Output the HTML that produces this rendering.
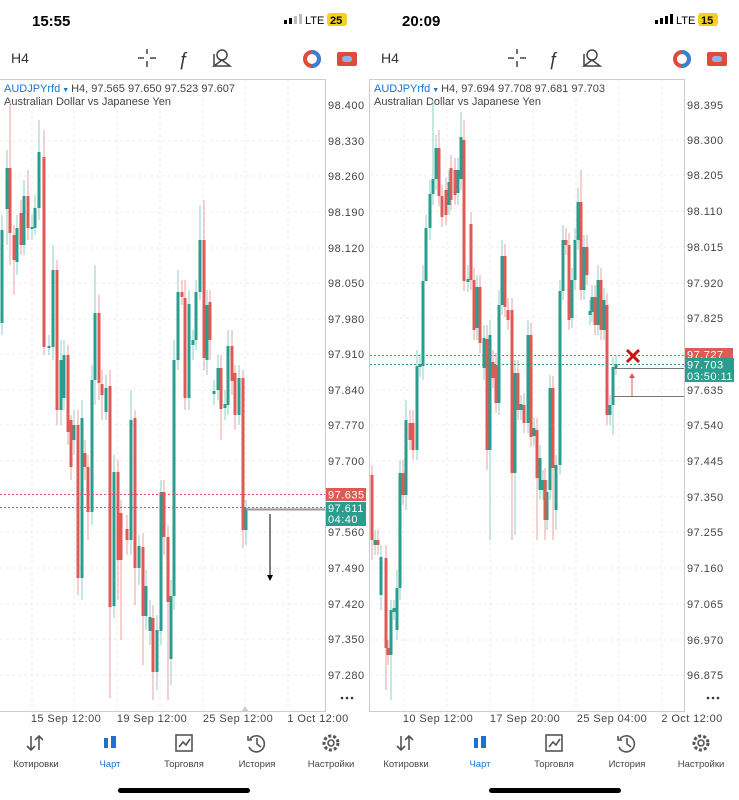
<!DOCTYPE html>
<html><head><meta charset="utf-8"><style>
body{margin:0;width:739px;height:800px;background:#fff;overflow:hidden;font-family:"Liberation Sans",sans-serif;}
svg{position:absolute;left:0;top:0}
</style></head><body>
<svg width="739" height="800" viewBox="0 0 739 800" font-family="Liberation Sans, DejaVu Sans, sans-serif">
<!-- status bars -->
<text x="32" y="26" font-size="15" font-weight="bold" fill="#000">15:55</text>
<text x="402" y="26" font-size="15" font-weight="bold" fill="#000">20:09</text>
<g fill="#000"><rect x="284" y="20" width="3" height="4"/><rect x="289" y="18" width="3" height="6"/><rect x="294" y="16" width="3" height="8" fill="#bbb"/><rect x="299" y="14" width="3" height="10" fill="#bbb"/>
<rect x="655" y="20" width="3" height="4"/><rect x="660" y="18" width="3" height="6"/><rect x="665" y="16" width="3" height="8"/><rect x="670" y="14" width="3" height="10"/></g>
<text x="305" y="24" font-size="11" fill="#000">LTE</text><rect x="327" y="13" width="20" height="13" rx="3" fill="#f5d020"/><text x="330" y="24" font-size="11" font-weight="bold">25</text>
<text x="676" y="24" font-size="11" fill="#000">LTE</text><rect x="698" y="13" width="20" height="13" rx="3" fill="#f5d020"/><text x="701" y="24" font-size="11" font-weight="bold">15</text>
<!-- toolbars -->
<g font-size="14" fill="#333"><text x="11" y="63">H4</text><text x="381" y="63">H4</text></g>
<g stroke="#444" stroke-width="1.5" fill="none">
<path d="M138 58h6M150 58h6M147 49v5M147 61v6M508 58h6M520 58h6M517 49v5M517 61v6"/>
<circle cx="222" cy="55" r="5"/><path d="M214 66l8-6 8 6zM214 54v12"/><circle cx="592" cy="55" r="5"/><path d="M584 66l8-6 8 6zM584 54v12"/>
</g>
<g font-size="18" font-style="italic" fill="#333"><text x="178" y="65">ƒ</text><text x="548" y="65">ƒ</text></g>
<g><circle cx="312" cy="59" r="7" fill="none" stroke="#e04a3a" stroke-width="4"/><path d="M312 52a7 7 0 0 1 0 14" stroke="#3a7fd5" stroke-width="4" fill="none"/>
<circle cx="682" cy="59" r="7" fill="none" stroke="#e04a3a" stroke-width="4"/><path d="M682 52a7 7 0 0 1 0 14" stroke="#3a7fd5" stroke-width="4" fill="none"/>
<rect x="337" y="52" width="20" height="14" rx="2" fill="#e04a3a"/><rect x="342" y="56" width="10" height="6" rx="3" fill="#8ab4f0"/>
<rect x="707" y="52" width="20" height="14" rx="2" fill="#e04a3a"/><rect x="712" y="56" width="10" height="6" rx="3" fill="#8ab4f0"/></g>
<!-- chart frames -->
<g stroke="#ccc" fill="none"><path d="M0 79.5H325.5V711.5H0"/><path d="M369.5 79.5H684.5V711.5H369.5V79.5"/></g>
<!-- grids -->
<g stroke="#eee" stroke-dasharray="3,3">
<path d="M0 141H325M0 176H325M0 212H325M0 248H325M0 283H325M0 319H325M0 354H325M0 390H325M0 425H325M0 461H325M0 532H325M0 568H325M0 604H325M0 639H325M0 675H325"/>
<path d="M32 80V711M74 80V711M117 80V711M160 80V711M203 80V711M245 80V711M288 80V711"/>
<path d="M370 140H684M370 175H684M370 211H684M370 247H684M370 283H684M370 318H684M370 390H684M370 425H684M370 461H684M370 497H684M370 532H684M370 568H684M370 604H684M370 640H684M370 675H684"/>
<path d="M404 80V711M447 80V711M490 80V711M533 80V711M576 80V711M619 80V711M662 80V711"/>
</g>
<!-- headers -->
<text x="4" y="92" font-size="11"><tspan fill="#1a73d0">AUDJPYrfd</tspan><tspan fill="#1a73d0" font-size="7"> ▼ </tspan><tspan fill="#444">H4, 97.565 97.650 97.523 97.607</tspan></text>
<text x="4" y="105" font-size="11" fill="#444">Australian Dollar vs Japanese Yen</text>
<text x="374" y="92" font-size="11"><tspan fill="#1a73d0">AUDJPYrfd</tspan><tspan fill="#1a73d0" font-size="7"> ▼ </tspan><tspan fill="#444">H4, 97.694 97.708 97.681 97.703</tspan></text>
<text x="374" y="105" font-size="11" fill="#444">Australian Dollar vs Japanese Yen</text>
<!-- left wicks -->
<path fill="none" stroke="#8fd0c6" d="M2 215V335M7 150V245M17 215V275M24 180V255M32 215V240M35 195V235M39 120V220M49 335V355M53 245V360M61 340V425M64 340V410M74 410V455M82 400V600M92 365V525M95 265V405M106 375V420M114 455V618M131 390V555M139 535V585M146 570V630M150 600V645M157 615V690M161 480V645M171 580V685M174 340V610M178 270V370M189 290V410M193 330V360M196 280V350M200 205V300M207 290V375M214 380V405M218 355V400M225 390V420M228 330V415M239 365V425M246 500V545"/>
<path fill="none" stroke="#eaa3a0" d="M10 100V265M14 225V295M21 200V255M28 170V240M44 130V355M57 260V425M68 345V445M71 415V480M78 410V595M85 440V480M88 455V540M99 295V400M102 370V420M110 370V698M118 460V600M121 500V640M127 515V555M135 410V605M143 533V665M153 605V700M164 480V555M168 525V700M182 280V305M185 280V410M204 200V370M210 290V360M221 355V440M232 330V395M235 365V430M243 370V548"/>
<!-- left bodies green -->
<g fill="#2a9d8f">
<rect x="0.5" y="230" width="3" height="93"/><rect x="5.5" y="168" width="3" height="41"/><rect x="15.5" y="228" width="3" height="34"/><rect x="22.5" y="196" width="3" height="49"/><rect x="30.5" y="227" width="3" height="2"/><rect x="33.5" y="208" width="3" height="20"/><rect x="37.5" y="152" width="3" height="56"/><rect x="47.5" y="346" width="3" height="2"/><rect x="51.5" y="270" width="3" height="77"/><rect x="59.5" y="360" width="3" height="50"/><rect x="62.5" y="355" width="3" height="43"/><rect x="72.5" y="425" width="3" height="15"/><rect x="80.5" y="418" width="3" height="160"/><rect x="90.5" y="380" width="3" height="132"/><rect x="93.5" y="313" width="3" height="67"/><rect x="104.5" y="388" width="3" height="24"/><rect x="112.5" y="472" width="3" height="134"/><rect x="129.5" y="420" width="3" height="120"/><rect x="137.5" y="546" width="3" height="22"/><rect x="144.5" y="586" width="3" height="30"/><rect x="148.5" y="617" width="3" height="14"/><rect x="155.5" y="630" width="3" height="42"/><rect x="159.5" y="492" width="3" height="139"/><rect x="169.5" y="596" width="3" height="63"/><rect x="172.5" y="360" width="3" height="236"/><rect x="176.5" y="292" width="3" height="68"/><rect x="187.5" y="304" width="3" height="94"/><rect x="191.5" y="340" width="3" height="5"/><rect x="194.5" y="292" width="3" height="48"/><rect x="198.5" y="240" width="3" height="52"/><rect x="205.5" y="305" width="3" height="55"/><rect x="212.5" y="391" width="3" height="3"/><rect x="216.5" y="368" width="3" height="22"/><rect x="223.5" y="404" width="3" height="4"/><rect x="226.5" y="346" width="3" height="59"/><rect x="237.5" y="378" width="3" height="37"/><rect x="244.5" y="508" width="3" height="22"/>
</g>
<g fill="#e05a55">
<rect x="8.5" y="168" width="3" height="65"/><rect x="12.5" y="235" width="3" height="25"/><rect x="19.5" y="213" width="3" height="32"/><rect x="26.5" y="196" width="3" height="32"/><rect x="42.5" y="157" width="3" height="190"/><rect x="55.5" y="270" width="3" height="140"/><rect x="66.5" y="355" width="3" height="77"/><rect x="69.5" y="420" width="3" height="47"/><rect x="76.5" y="425" width="3" height="153"/><rect x="83.5" y="453" width="3" height="14"/><rect x="86.5" y="467" width="3" height="45"/><rect x="97.5" y="313" width="3" height="70"/><rect x="100.5" y="384" width="3" height="11"/><rect x="108.5" y="386" width="3" height="221"/><rect x="116.5" y="472" width="3" height="88"/><rect x="119.5" y="513" width="3" height="47"/><rect x="125.5" y="529" width="3" height="11"/><rect x="133.5" y="418" width="3" height="150"/><rect x="141.5" y="547" width="3" height="69"/><rect x="151.5" y="618" width="3" height="54"/><rect x="162.5" y="492" width="3" height="45"/><rect x="166.5" y="537" width="3" height="65"/><rect x="180.5" y="292" width="3" height="5"/><rect x="183.5" y="298" width="3" height="100"/><rect x="202.5" y="240" width="3" height="118"/><rect x="208.5" y="302" width="3" height="38"/><rect x="219.5" y="368" width="3" height="41"/><rect x="230.5" y="346" width="3" height="35"/><rect x="233.5" y="373" width="3" height="42"/><rect x="241.5" y="378" width="3" height="152"/>
</g>
<!-- left price lines -->
<path d="M0 494.5H325" stroke="#e05a55" stroke-dasharray="2,2"/>
<path d="M0 507.5H325" stroke="#2a9d8f" stroke-dasharray="2,2"/>
<path d="M246 509.5H325" stroke="#999" stroke-width="2"/>
<path d="M270 514V576" stroke="#000"/><path d="M267 575l3 6 3-6z" fill="#000"/>
<path d="M241 712l4-6 4 6z" fill="#ccc"/>
<!-- right wicks -->
<path fill="none" stroke="#8fd0c6" d="M375 530V555M381 545V610M391 600V700M394 600V620M397 570V640M400 460V600M406 400V510M417 350V460M420 354V377M423 265V380M426 215V275M430 180V240M433 100V205M436 135V190M449 170V215M458 158V205M461 112V190M468 265V292M477 275V340M484 325V380M490 320V540M499 290V415M502 240V315M515 360V535M521 395V420M528 320V433M534 418V446M540 445V500M543 470V500M547 480V530M550 375V500M556 455V530M560 280V475M563 225V300M572 268V328M575 228V290M578 188V250M584 235V300M590 300V325M592 285V322M598 265V335M604 288V340M610 395V425M613 357V435M616 355V375"/>
<path fill="none" stroke="#eaa3a0" d="M372 465V560M378 530V555M386 545V690M388 640V665M403 460V505M410 410V450M413 410V460M439 130V206M442 185V227M446 178V225M451 155V210M455 158V205M464 120V291M471 212V290M474 268V340M480 275V353M487 325V470M493 350V388M496 353V413M505 244V317M508 298V330M512 298V540M518 360V420M524 393V433M531 323V447M537 418V540M545 468V540M553 376V540M566 228V255M569 233V330M581 170V300M587 235V285M595 285V335M601 268V340M607 293V425"/>
<g fill="#2a9d8f">
<rect x="373.5" y="540" width="3" height="5"/><rect x="379.5" y="557" width="3" height="38"/><rect x="389.5" y="610" width="3" height="45"/><rect x="392.5" y="608" width="3" height="4"/><rect x="395.5" y="588" width="3" height="42"/><rect x="398.5" y="473" width="3" height="115"/><rect x="404.5" y="420" width="3" height="75"/><rect x="415.5" y="366" width="3" height="84"/><rect x="418.5" y="364" width="3" height="3"/><rect x="421.5" y="281" width="3" height="85"/><rect x="424.5" y="228" width="3" height="53"/><rect x="428.5" y="194" width="3" height="34"/><rect x="431.5" y="179" width="3" height="15"/><rect x="434.5" y="148" width="3" height="31"/><rect x="447.5" y="182" width="3" height="23"/><rect x="456.5" y="170" width="3" height="23"/><rect x="459.5" y="137" width="3" height="42"/><rect x="466.5" y="279" width="3" height="3"/><rect x="475.5" y="287" width="3" height="41"/><rect x="482.5" y="338" width="3" height="30"/><rect x="488.5" y="335" width="3" height="115"/><rect x="497.5" y="305" width="3" height="98"/><rect x="500.5" y="256" width="3" height="49"/><rect x="513.5" y="373" width="3" height="100"/><rect x="519.5" y="404" width="3" height="6"/><rect x="526.5" y="335" width="3" height="88"/><rect x="532.5" y="428" width="3" height="8"/><rect x="538.5" y="458" width="3" height="32"/><rect x="541.5" y="480" width="3" height="10"/><rect x="545.5" y="492" width="3" height="28"/><rect x="548.5" y="388" width="3" height="102"/><rect x="554.5" y="465" width="3" height="45"/><rect x="558.5" y="291" width="3" height="174"/><rect x="561.5" y="240" width="3" height="51"/><rect x="570.5" y="280" width="3" height="38"/><rect x="573.5" y="240" width="3" height="40"/><rect x="576.5" y="202" width="3" height="38"/><rect x="582.5" y="247" width="3" height="43"/><rect x="588.5" y="311" width="3" height="4"/><rect x="590.5" y="297" width="3" height="15"/><rect x="596.5" y="280" width="3" height="45"/><rect x="602.5" y="300" width="3" height="30"/><rect x="608.5" y="405" width="3" height="10"/><rect x="611.5" y="367" width="3" height="38"/><rect x="614.5" y="364" width="3" height="4"/>
</g>
<g fill="#e05a55">
<rect x="370.5" y="475" width="3" height="65"/><rect x="376.5" y="540" width="3" height="5"/><rect x="384.5" y="558" width="3" height="90"/><rect x="386.5" y="648" width="3" height="7"/><rect x="401.5" y="473" width="3" height="22"/><rect x="408.5" y="423" width="3" height="17"/><rect x="411.5" y="423" width="3" height="27"/><rect x="437.5" y="148" width="3" height="48"/><rect x="440.5" y="196" width="3" height="21"/><rect x="444.5" y="190" width="3" height="25"/><rect x="449.5" y="168" width="3" height="32"/><rect x="453.5" y="170" width="3" height="25"/><rect x="462.5" y="140" width="3" height="141"/><rect x="469.5" y="224" width="3" height="56"/><rect x="472.5" y="280" width="3" height="50"/><rect x="478.5" y="287" width="3" height="56"/><rect x="485.5" y="339" width="3" height="111"/><rect x="491.5" y="362" width="3" height="16"/><rect x="494.5" y="365" width="3" height="38"/><rect x="503.5" y="256" width="3" height="51"/><rect x="506.5" y="310" width="3" height="10"/><rect x="510.5" y="310" width="3" height="163"/><rect x="516.5" y="373" width="3" height="37"/><rect x="522.5" y="405" width="3" height="18"/><rect x="529.5" y="335" width="3" height="102"/><rect x="535.5" y="430" width="3" height="48"/><rect x="543.5" y="480" width="3" height="40"/><rect x="551.5" y="388" width="3" height="80"/><rect x="564.5" y="240" width="3" height="5"/><rect x="567.5" y="245" width="3" height="75"/><rect x="579.5" y="202" width="3" height="88"/><rect x="585.5" y="247" width="3" height="28"/><rect x="593.5" y="297" width="3" height="28"/><rect x="599.5" y="280" width="3" height="50"/><rect x="605.5" y="305" width="3" height="110"/>
</g>
<!-- right price lines -->
<path d="M370 355.5H684" stroke="#e05a55" stroke-dasharray="2,2"/>
<path d="M370 364.5H684" stroke="#2a9d8f" stroke-dasharray="2,2"/>
<path d="M614 368.5H684M612 396.5H684" stroke="#777"/>
<path d="M632 396V377" stroke="#e05a55"/><path d="M629 378l3-5 3 5z" fill="#e05a55"/>
<path d="M627 350l12 12M639 350l-12 12" stroke="#d01010" stroke-width="3"/>
<!-- axis labels -->
<g font-size="11" fill="#444" letter-spacing="0.5">
<text x="328" y="109">98.400</text><text x="328" y="145">98.330</text><text x="328" y="180">98.260</text><text x="328" y="216">98.190</text><text x="328" y="252">98.120</text><text x="328" y="287">98.050</text><text x="328" y="323">97.980</text><text x="328" y="358">97.910</text><text x="328" y="394">97.840</text><text x="328" y="429">97.770</text><text x="328" y="465">97.700</text><text x="328" y="536">97.560</text><text x="328" y="572">97.490</text><text x="328" y="608">97.420</text><text x="328" y="643">97.350</text><text x="328" y="679">97.280</text>
<text x="687" y="109">98.395</text><text x="687" y="144">98.300</text><text x="687" y="179">98.205</text><text x="687" y="215">98.110</text><text x="687" y="251">98.015</text><text x="687" y="287">97.920</text><text x="687" y="322">97.825</text><text x="687" y="394">97.635</text><text x="687" y="429">97.540</text><text x="687" y="465">97.445</text><text x="687" y="501">97.350</text><text x="687" y="536">97.255</text><text x="687" y="572">97.160</text><text x="687" y="608">97.065</text><text x="687" y="644">96.970</text><text x="687" y="679">96.875</text>
</g>
<rect x="326" y="488" width="40" height="13" fill="#e05a55"/><text x="328" y="498.5" font-size="11" fill="#fff" letter-spacing="0.5">97.635</text>
<rect x="326" y="502" width="40" height="24" fill="#2a9d8f"/><text x="328" y="512" font-size="11" fill="#fff" letter-spacing="0.5">97.611</text><text x="328" y="523" font-size="11" fill="#fff" letter-spacing="0.5">04:40</text>
<rect x="685" y="348" width="48" height="13" fill="#e05a55"/><text x="687" y="358.5" font-size="11" fill="#fff" letter-spacing="0.5">97.727</text>
<rect x="685" y="358" width="49" height="24" fill="#2a9d8f"/><text x="687" y="368.5" font-size="11" fill="#fff" letter-spacing="0.5">97.703</text><text x="687" y="380" font-size="11" fill="#fff" letter-spacing="0.5">03:50:11</text>
<g fill="#333"><circle cx="342" cy="698" r="1.3"/><circle cx="347" cy="698" r="1.3"/><circle cx="352" cy="698" r="1.3"/><circle cx="708" cy="698" r="1.3"/><circle cx="713" cy="698" r="1.3"/><circle cx="718" cy="698" r="1.3"/></g>
<g font-size="11" fill="#444" text-anchor="middle" letter-spacing="0.4">
<text x="66" y="722">15 Sep 12:00</text><text x="152" y="722">19 Sep 12:00</text><text x="238" y="722">25 Sep 12:00</text><text x="318" y="722">1 Oct 12:00</text>
<text x="438" y="722">10 Sep 12:00</text><text x="525" y="722">17 Sep 20:00</text><text x="612" y="722">25 Sep 04:00</text><text x="692" y="722">2 Oct 12:00</text>
</g>
<!-- nav -->
<g font-size="9.5" fill="#444" text-anchor="middle">
<text x="36" y="767">Котировки</text><text x="110" y="767" fill="#1a73d0">Чарт</text><text x="184" y="767">Торговля</text><text x="257" y="767">История</text><text x="331" y="767">Настройки</text>
<text x="406" y="767">Котировки</text><text x="480" y="767" fill="#1a73d0">Чарт</text><text x="554" y="767">Торговля</text><text x="627" y="767">История</text><text x="701" y="767">Настройки</text>
</g>
<g stroke="#555" stroke-width="1.6" fill="none">
<path d="M31 736v14M27 746l4 4 4-4M39 750v-14M35 740l4-4 4 4M401 736v14M397 746l4 4 4-4M409 750v-14M405 740l4-4 4 4"/>
<rect x="176" y="735" width="16" height="16"/><path d="M179 747l4-5 3 3 4-6"/><rect x="546" y="735" width="16" height="16"/><path d="M549 747l4-5 3 3 4-6"/>
<path d="M250 739a8 8 0 1 1-1 8M257 738v6l4 3M248 736v4h4"/><path d="M620 739a8 8 0 1 1-1 8M627 738v6l4 3M618 736v4h4"/>
<circle cx="331" cy="743" r="7" stroke-dasharray="3,2" stroke-width="3"/><circle cx="331" cy="743" r="3"/>
<circle cx="701" cy="743" r="7" stroke-dasharray="3,2" stroke-width="3"/><circle cx="701" cy="743" r="3"/>
</g>
<g fill="#1a73d0"><rect x="104" y="738" width="4" height="10"/><rect x="111" y="736" width="5" height="12"/><rect x="474" y="738" width="4" height="10"/><rect x="481" y="736" width="5" height="12"/></g>
<rect x="118" y="788" width="132" height="5" rx="2.5" fill="#000"/>
<rect x="489" y="788" width="132" height="5" rx="2.5" fill="#000"/>
</svg>
</body></html>
